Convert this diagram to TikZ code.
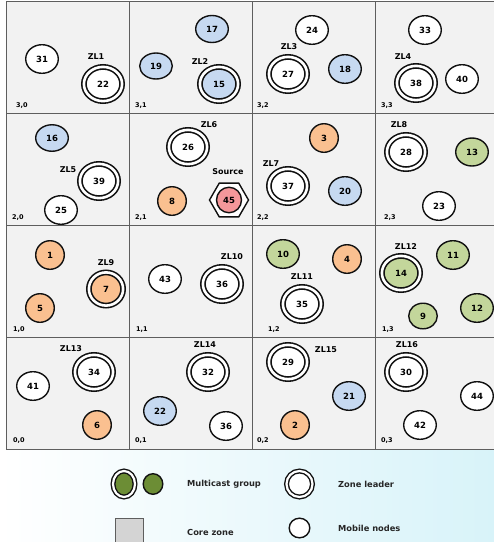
\documentclass[tikz,border=0pt]{standalone}
\usepackage{fontspec}
\setmainfont{DejaVu Sans}
\usetikzlibrary{shapes.geometric}
\definecolor{cellbg}{HTML}{F2F2F2}
\definecolor{gridc}{HTML}{5E5E5E}
\definecolor{nline}{HTML}{111111}
\definecolor{nblue}{HTML}{C6D9F1}
\definecolor{norange}{HTML}{FAC090}
\definecolor{ngreen}{HTML}{C3D69B}
\definecolor{nred}{HTML}{F4979A}
\definecolor{olive}{HTML}{6C8D35}
\definecolor{legcyan}{HTML}{D8F3F9}
\definecolor{coregray}{HTML}{D4D4D4}
\begin{document}
\begin{tikzpicture}[x=1pt,y=-1pt,
  numf/.style={font=\bfseries\fontsize{8.5}{8.5}\selectfont},
  zlf/.style={font=\bfseries\fontsize{8}{8}\selectfont},
  mnode/.style={ellipse,draw=nline,line width=1.4pt,fill=white,minimum width=32.6pt,minimum height=28.6pt,inner sep=0pt,numf},
  small/.style={minimum width=28.6pt,minimum height=28.6pt},
  zlnode/.style={ellipse,draw=nline,line width=1.6pt,double=white,double distance=2.6pt,fill=white,minimum width=38.2pt,minimum height=34.2pt,inner sep=0pt,numf},
  blue/.style={fill=nblue},
  orange/.style={fill=norange},
  green/.style={fill=ngreen},
  zllabel/.style={inner sep=0pt,zlf},
  celllabel/.style={anchor=west,inner sep=0pt,font=\bfseries\fontsize{6.5}{6.5}\selectfont},
  legtext/.style={anchor=west,inner sep=0pt,font=\bfseries\fontsize{8.3}{8.3}\selectfont,text=black!85},
  gridline/.style={draw=gridc,line width=0.9pt}]
\useasboundingbox (0,0) rectangle (494,542);
% legend background
\shade[left color=white,right color=legcyan] (0,449) rectangle (494,542);
% grid
\fill[cellbg] (6,1) rectangle (494,449);
\draw[gridline] (6,449) -- (6,1) -- (494,1);
\foreach \y in {113,225,337,449} \draw[gridline] (6,\y) -- (494,\y);
\foreach \x in {129,252,375} \draw[gridline] (\x,1) -- (\x,449);
% cell labels
\node[celllabel] (c30) at (16,106) {3,0};
\node[celllabel] (c31) at (135,106) {3,1};
\node[celllabel] (c32) at (257,106) {3,2};
\node[celllabel] (c33) at (381,106) {3,3};
\node[celllabel] (c20) at (12,218) {2,0};
\node[celllabel] (c21) at (135,218) {2,1};
\node[celllabel] (c22) at (257,218) {2,2};
\node[celllabel] (c23) at (384,218) {2,3};
\node[celllabel] (c10) at (13,330) {1,0};
\node[celllabel] (c11) at (136,330) {1,1};
\node[celllabel] (c12) at (268,330) {1,2};
\node[celllabel] (c13) at (382,330) {1,3};
\node[celllabel] (c00) at (13,441) {0,0};
\node[celllabel] (c01) at (135,441) {0,1};
\node[celllabel] (c02) at (257,441) {0,2};
\node[celllabel] (c03) at (381,441) {0,3};
% row 3
\node[mnode] (n31) at (42,59) {31};
\node[zlnode] (zl1) at (103,84) {22};
\node[zllabel] (lzl1) at (96,57) {ZL1};
\node[mnode,blue,minimum height=27pt] (n17) at (212,29) {17};
\node[mnode,blue,minimum height=26pt] (n19) at (156,66) {19};
\node[zlnode,blue] (zl2) at (219,84) {15};
\node[zllabel] (lzl2) at (200,62) {ZL2};
\node[mnode] (n24) at (312,30) {24};
\node[zlnode] (zl3) at (288,74) {27};
\node[zllabel] (lzl3) at (289,47) {ZL3};
\node[mnode,blue] (n18) at (345,69) {18};
\node[mnode] (n33) at (425,30) {33};
\node[zlnode] (zl4) at (416,83) {38};
\node[zllabel] (lzl4) at (403,57) {ZL4};
\node[mnode] (n40) at (462,79) {40};
% row 2
\node[mnode,blue,minimum height=26.5pt] (n16) at (52,138) {16};
\node[zlnode] (zl5) at (99,181) {39};
\node[zllabel] (lzl5) at (68,170) {ZL5};
\node[mnode] (n25) at (61,210) {25};
\node[zlnode] (zl6) at (188,147) {26};
\node[zllabel] (lzl6) at (209,125) {ZL6};
\node[mnode,orange,small] (n8) at (172,201) {8};
\node[regular polygon,regular polygon sides=6,draw=nline,line width=1.4pt,fill=white,minimum size=39pt,inner sep=0pt] (src) at (229,200) {};
\node[ellipse,draw=nline,line width=1.4pt,fill=nred,minimum width=25pt,minimum height=25.5pt,inner sep=0pt,numf] (n45) at (src.center) {45};
\node[zllabel] (lsrc) at (228,172) {Source};
\node[mnode,orange,small] (n3) at (324,138) {3};
\node[zlnode] (zl7) at (288,186) {37};
\node[zllabel] (lzl7) at (271,164) {ZL7};
\node[mnode,blue] (n20) at (345,191) {20};
\node[zlnode] (zl8) at (406,152) {28};
\node[zllabel] (lzl8) at (399,125) {ZL8};
\node[mnode,green,minimum height=28pt] (n13) at (472,152) {13};
\node[mnode] (n23) at (439,206) {23};
% row 1
\node[mnode,orange,small] (n1) at (50,255) {1};
\node[mnode,orange,small] (n5) at (40,308) {5};
\node[zlnode,orange,minimum width=34.2pt,minimum height=33.2pt] (zl9) at (106,289) {7};
\node[zllabel] (lzl9) at (106,263) {ZL9};
\node[mnode] (n43) at (165,279) {43};
\node[zlnode] (zl10) at (222,284) {36};
\node[zllabel] (lzl10) at (232,257) {ZL10};
\node[mnode,green] (n10) at (283,254) {10};
\node[mnode,orange,small] (n4) at (347,259) {4};
\node[zlnode] (zl11) at (302,304) {35};
\node[zllabel] (lzl11) at (302,277) {ZL11};
\node[zlnode,green] (zl12) at (401,273) {14};
\node[zllabel] (lzl12) at (406,247) {ZL12};
\node[mnode,green] (n11) at (453,255) {11};
\node[mnode,green,minimum width=28.6pt,minimum height=25.6pt] (n9) at (423,316) {9};
\node[mnode,green] (n12) at (477,308) {12};
% row 0
\node[zlnode] (zl13) at (94,372) {34};
\node[zllabel] (lzl13) at (71,349) {ZL13};
\node[mnode] (n41) at (33,386) {41};
\node[mnode,orange,small] (n6) at (97,425) {6};
\node[zlnode] (zl14) at (208,372) {32};
\node[zllabel] (lzl14) at (205,345) {ZL14};
\node[mnode,blue] (n22) at (160,411) {22};
\node[mnode] (n36) at (226,426) {36};
\node[zlnode] (zl15) at (288,362) {29};
\node[zllabel] (lzl15) at (326,350) {ZL15};
\node[mnode,blue] (n21) at (349,396) {21};
\node[mnode,orange,small] (n2) at (295,425) {2};
\node[zlnode] (zl16) at (406,372) {30};
\node[zllabel] (lzl16) at (407,345) {ZL16};
\node[mnode] (n44) at (477,396) {44};
\node[mnode] (n42) at (420,425) {42};
% legend
\node[ellipse,draw=nline,line width=1.4pt,double=white,double distance=2.2pt,fill=olive,minimum width=22pt,minimum height=26pt,inner sep=0pt] (lgmc) at (124,484) {};
\node[ellipse,draw=nline,line width=1.4pt,fill=olive,minimum width=19.6pt,minimum height=20.6pt,inner sep=0pt] (lgmc2) at (153,484) {};
\node[legtext] (tmc) at (187,484) {Multicast group};
\node[ellipse,draw=nline,line width=1.4pt,double=white,double distance=2.2pt,fill=white,minimum width=26pt,minimum height=26pt,inner sep=0pt] (lgzl) at (299.5,484) {};
\node[legtext] (tzl) at (338,484) {Zone leader};
\node[draw=gridc,line width=0.8pt,fill=coregray,minimum width=28pt,minimum height=28pt,inner sep=0pt] (lgcore) at (129.5,532) {};
\node[legtext] (tcore) at (187,532) {Core zone};
\node[ellipse,draw=nline,line width=1.4pt,fill=white,minimum width=20.6pt,minimum height=19.6pt,inner sep=0pt] (lgmob) at (299.5,528) {};
\node[legtext] (tmob) at (338,528) {Mobile nodes};
\end{tikzpicture}
\end{document}
